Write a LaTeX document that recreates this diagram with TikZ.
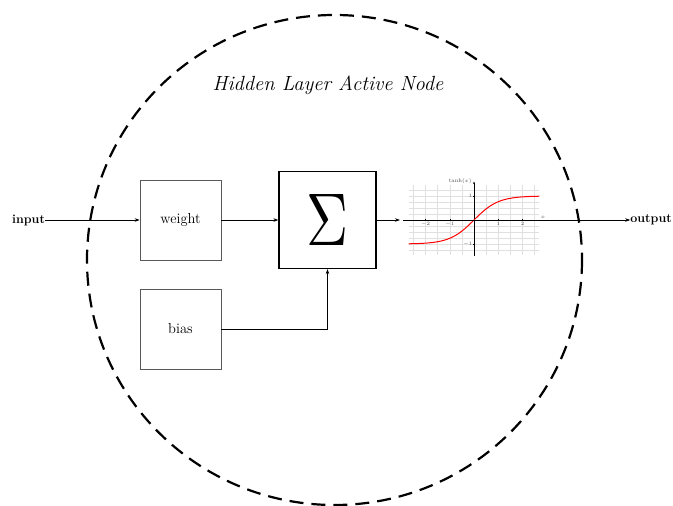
\documentclass[tikz,border=0pt]{standalone}
\usepackage{fontspec}
\usetikzlibrary{arrows.meta,calc}
\tikzset{
  box/.style={draw=black!65, line width=0.7pt, minimum width=81pt, minimum height=80pt, inner sep=0pt, font=\fontsize{14.5}{16}\selectfont},
  sumbox/.style={draw=black, line width=1.3pt, minimum width=97pt, minimum height=97pt, inner sep=0pt},
  conn/.style={line width=0.6pt, -{Stealth[length=5pt,width=3.5pt]}},
  lbl/.style={font=\bfseries\fontsize{12.5}{15}\selectfont, inner sep=0pt},
  gridline/.style={black!12, line width=0.3pt},
  tinylbl/.style={font=\fontsize{5.5}{6}\selectfont, inner sep=1pt, text=black!70}
}
\begin{document}
\begin{tikzpicture}[x=1pt,y=-1pt]
\useasboundingbox (0,0) rectangle (673,506);
% dashed circle
\draw[line width=2.2pt, dash pattern=on 14pt off 8pt] (334.5,260) ellipse (247.5 and 245);
% title
\node[font=\itshape\fontsize{20.5}{24}\selectfont] (title) at (328,85) {Hidden Layer Active Node};
% nodes
\node[lbl, anchor=west] (input) at (12,220) {input};
\node[lbl, anchor=east] (output) at (672,220) {output};
\node[box] (weight) at (180.5,220) {weight};
\node[box] (bias) at (180.5,329) {bias};
\node[sumbox] (sum) at (327.5,220) {\resizebox{42pt}{51pt}{$\Sigma$}};
% tanh plot
\begin{scope}[shift={(474,220)}, x=24.25pt, y=24pt]
  \foreach \i in {-5,...,5} \draw[gridline] (\i/2,-1.45) -- (\i/2,1.45);
  \foreach \j in {-2.5,-2,...,2.5} \draw[gridline] (-2.7,\j/2) -- (2.7,\j/2);
  \draw[line width=0.4pt, -{Stealth[length=2.5pt,width=2pt]}] (0,-1.5) -- (0,1.6);
  \coordinate (plotleft) at (-2.93,0);
  \coordinate (plotright) at (2.95,0);
  \foreach \t/\l in {-2/$-2$,-1/$-1$,1/$1$,2/$2$} {
    \draw[line width=0.3pt] (\t,0.06) -- (\t,-0.06);
    \node[tinylbl, anchor=north] at (\t,-0.05) {\l};
  }
  \foreach \t/\l in {-1/$-1$,1/$1$} {
    \draw[line width=0.3pt] (0.06,\t) -- (-0.06,\t);
    \node[tinylbl, anchor=east] at (-0.03,\t) {\l};
  }
  \node[tinylbl, anchor=south east] at (-0.05,1.45) {$\tanh(x)$};
  \node[tinylbl, anchor=south] at (2.85,0.02) {$x$};
  \draw[red, line width=1pt, domain=-2.7:2.7, samples=80, smooth] plot (\x,{tanh(\x)});
\end{scope}
% connectors
\draw[conn] (input) -- (weight);
\draw[conn] (weight) -- (sum);
\draw[conn] (bias.east) -| (sum.south);
\draw[conn] (sum.east) -- ($(plotleft)+(-3,0)$);
\draw[line width=0.4pt] (plotleft) -- (plotright);
\draw[conn] (plotright) -- (output);
\end{tikzpicture}
\end{document}
